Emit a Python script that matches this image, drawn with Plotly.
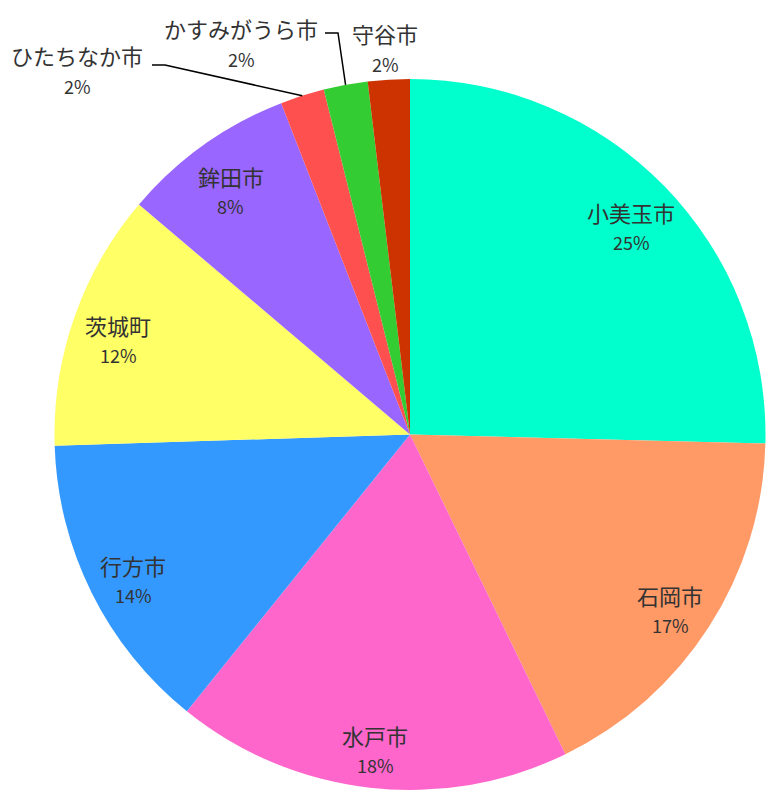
import math
import plotly.graph_objects as go

# ---- data ----
names = ["小美玉市", "石岡市", "水戸市", "行方市", "茨城町", "鉾田市",
         "ひたちなか市", "かすみがうら市", "守谷市"]
values = [25.4, 17.4, 18.0, 13.7, 11.7, 7.9, 2.0, 2.0, 1.9]
colors = ["#00FFCC", "#FF9966", "#FF66CC", "#3399FF", "#FFFF66",
          "#9966FF", "#FF5050", "#33CC33", "#CC3300"]

W, H = 766, 790
R_PX = 355.5
CX_PX, CY_PX = 410.0, 434.5

dom_x = [(CX_PX - R_PX) / W, (CX_PX + R_PX) / W]
dom_y = [1 - (CY_PX + R_PX) / H, 1 - (CY_PX - R_PX) / H]
dom_x = [max(0, dom_x[0]), min(1, dom_x[1])]
dom_y = [max(0, dom_y[0]), min(1, dom_y[1])]

fig = go.Figure(go.Pie(
    labels=names, values=values, sort=False, direction="clockwise",
    rotation=0, marker=dict(colors=colors, line=dict(width=0)),
    textinfo="none", hoverinfo="label+percent", showlegend=False,
    domain=dict(x=dom_x, y=dom_y),
))

FONT = "Noto Sans CJK JP, Noto Sans, sans-serif"
TXT = "#333333"
NAME_SIZE = 22
PCT_SIZE = 18
total = sum(values)
pcts = [f"{round(v / total * 100)}%" for v in values]


def px2paper(x, y):
    return x / W, 1 - y / H


def slice_point(i, frac):
    cum = sum(values[:i]) + values[i] / 2
    ang = cum / total * 2 * math.pi
    return CX_PX + frac * R_PX * math.sin(ang), CY_PX - frac * R_PX * math.cos(ang)


def label(x, y, text, size, yshift=0):
    px, py = px2paper(x, y)
    return dict(x=px, y=py, xref="paper", yref="paper", text=text, showarrow=False,
                xanchor="center", yanchor="middle", yshift=yshift,
                font=dict(family=FONT, size=size, color=TXT))


annotations = []
shapes = []

# inside labels for the larger slices
for i in range(6):
    x, y = slice_point(i, 0.87)
    y += 8
    annotations.append(label(x, y, names[i], NAME_SIZE, 15))
    annotations.append(label(x, y, pcts[i], PCT_SIZE, -15))

# outside labels for the small slices (layout positions in px)
outside = {6: (77, 55, 152, 65), 7: (241, 28, 325, 33), 8: (385, 33, None, None)}
for i, (lx, ly, sx, sy) in outside.items():
    annotations.append(label(lx, ly, names[i], NAME_SIZE))
    annotations.append(label(lx, ly, pcts[i], PCT_SIZE, -31))
    if sx is not None:
        ex, ey = slice_point(i, 1.0)
        p = [px2paper(sx, sy), px2paper(sx + 13, sy), px2paper(ex, ey)]
        path = "M {} {} L {} {} L {} {}".format(p[0][0], p[0][1], p[1][0], p[1][1], p[2][0], p[2][1])
        shapes.append(dict(type="path", xref="paper", yref="paper", path=path,
                           line=dict(color="#000000", width=1.5)))

fig.update_layout(
    width=W, height=H, margin=dict(l=0, r=0, t=0, b=0),
    paper_bgcolor="white", plot_bgcolor="white",
    annotations=annotations, shapes=shapes,
)

fig.write_html("out.html", config={"displayModeBar": False},
               post_script="document.body.style.margin='0';")
